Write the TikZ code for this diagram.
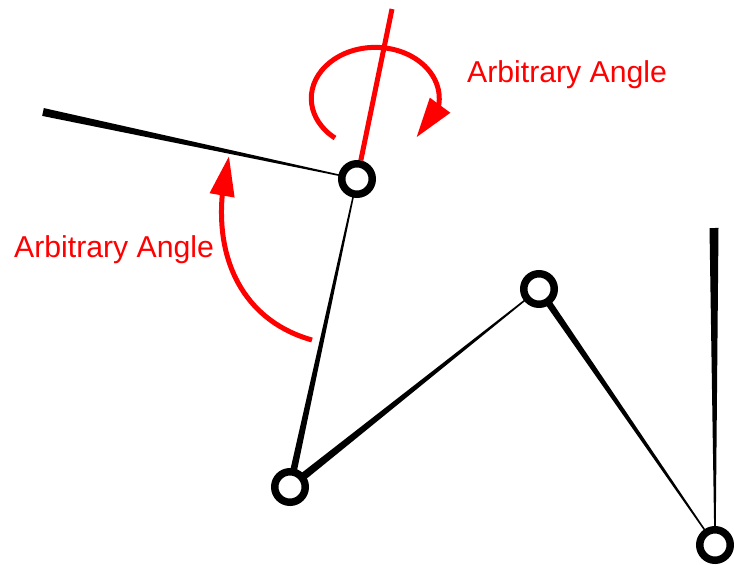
\documentclass[tikz,border=0pt]{standalone}
\usepackage{fontspec}
\setmainfont{Liberation Sans}
\usetikzlibrary{arrows.meta,bending,calc,backgrounds}
\tikzset{
  joint/.style={
    circle,
    draw=black,
    line width=7.5pt,
    fill=white,
    minimum size=30.5pt,
    inner sep=0pt
  },
  swing/.style={
    draw=red,
    line width=5pt,
    -{Triangle[length=40pt,width=24pt,flex]}
  },
  anglelabel/.style={
    text=red,
    font=\fontsize{30.2}{36}\selectfont,
    anchor=base west,
    inner sep=0pt
  }
}
% tapered limb: thick at #1 (half width #3), thin at #2
\newcommand{\limb}[3]{%
  \fill ($(#1)!#3!90:(#2)$) -- ($(#1)!#3!-90:(#2)$)
    -- ($(#2)!0.6pt!90:(#1)$) -- ($(#2)!0.6pt!-90:(#1)$) -- cycle;}

\begin{document}
\begin{tikzpicture}[x=1pt,y=1pt]
\useasboundingbox (0,0) rectangle (734,-565);

% joints
\node[joint] (shoulder) at (357,-179) {};
\node[joint] (hip) at (290,-487) {};
\node[joint] (knee) at (539,-289) {};
\node[joint] (foot) at (715,-545) {};
\coordinate (handtip) at (43,-112);
\coordinate (toptip) at (714,-228);
\coordinate (axistip) at (392,-9);

% limbs behind the joints
\begin{scope}[on background layer]
\limb{handtip}{shoulder}{4pt}
\limb{hip}{shoulder}{3.5pt}
\limb{hip}{knee}{4pt}
\limb{knee}{foot}{3.5pt}
\limb{toptip}{foot}{4.5pt}
\draw[red, line width=5pt] (shoulder) -- (axistip);
\end{scope}

% rotation arrows
\draw[swing] (335,-138) arc[start angle=231, end angle=-50, x radius=64, y radius=51];
\draw[swing] (312,-340) .. controls (240,-320) and (205,-250) .. (229,-156);

\node[anglelabel] (toplabel) at (467,-82) {Arbitrary Angle};
\node[anglelabel] (sidelabel) at (14,-257) {Arbitrary Angle};

\end{tikzpicture}
\end{document}
